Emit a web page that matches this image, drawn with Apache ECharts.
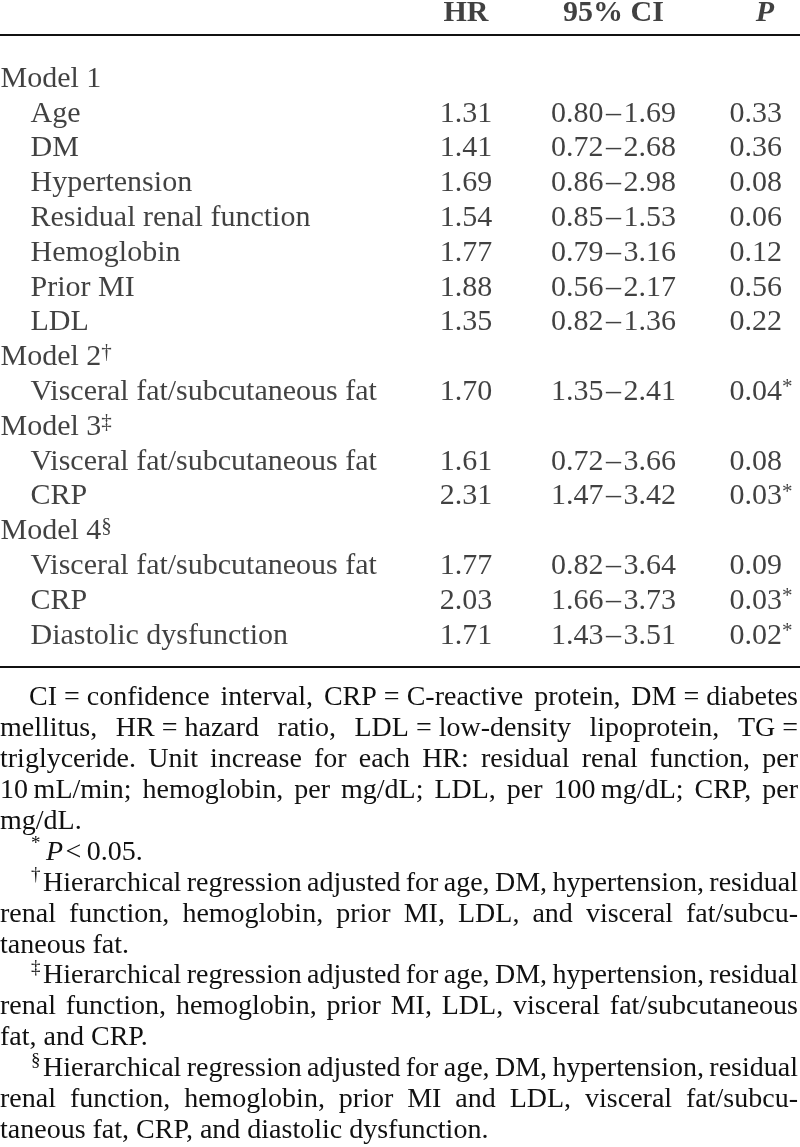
<!DOCTYPE html>
<html><head><meta charset="utf-8">
<script src="https://cdn.jsdelivr.net/npm/echarts@6/dist/echarts.min.js"></script>
<style>html,body{margin:0;padding:0;background:#fff}#c{width:800px;height:1147px}</style>
</head><body><div id="c"></div>
<script>
// ---------------- DATA ----------------
const headers = ['HR', '95% CI', 'P'];
const rowNames = ['Model 1','Age','DM','Hypertension','Residual renal function','Hemoglobin','Prior MI','LDL',
  'Model 2','Visceral fat/subcutaneous fat','Model 3','Visceral fat/subcutaneous fat','CRP',
  'Model 4','Visceral fat/subcutaneous fat','CRP','Diastolic dysfunction'];
const rowLevel = [0,1,1,1,1,1,1,1,0,1,0,1,1,0,1,1,1];
const rowMark  = ['','','','','','','','','†','','‡','','','§','','',''];
const hrValues = [null,1.31,1.41,1.69,1.54,1.77,1.88,1.35,null,1.70,null,1.61,2.31,null,1.77,2.03,1.71];
const ciLower  = [null,0.80,0.72,0.86,0.85,0.79,0.56,0.82,null,1.35,null,0.72,1.47,null,0.82,1.66,1.43];
const ciUpper  = [null,1.69,2.68,2.98,1.53,3.16,2.17,1.36,null,2.41,null,3.66,3.42,null,3.64,3.73,3.51];
const pValues  = [null,0.33,0.36,0.08,0.06,0.12,0.56,0.22,null,0.04,null,0.08,0.03,null,0.09,0.03,0.02];
const pStar    = [0,0,0,0,0,0,0,0,0,1,0,0,1,0,0,1,1];

const footnoteLines = [
  'CI\u00A0=\u00A0confidence interval, CRP\u00A0=\u00A0C-reactive protein, DM\u00A0=\u00A0diabetes',
  'mellitus, HR\u00A0=\u00A0hazard ratio, LDL\u00A0=\u00A0low-density lipoprotein, TG\u00A0=',
  'triglyceride. Unit increase for each HR: residual renal function, per',
  '10\u2009mL/min; hemoglobin, per mg/dL; LDL, per 100\u2009mg/dL; CRP, per',
  'mg/dL.',
  'P\u200A<\u20090.05.',
  'Hierarchical regression adjusted for age, DM, hypertension, residual',
  'renal function, hemoglobin, prior MI, LDL, and visceral fat/subcu-',
  'taneous fat.',
  'Hierarchical regression adjusted for age, DM, hypertension, residual',
  'renal function, hemoglobin, prior MI, LDL, visceral fat/subcutaneous',
  'fat, and CRP.',
  'Hierarchical regression adjusted for age, DM, hypertension, residual',
  'renal function, hemoglobin, prior MI and LDL, visceral fat/subcu-',
  'taneous fat, CRP, and diastolic dysfunction.'
];
const footnoteMarks   = ['','','','','','*','†','','','‡','','','§','',''];
const footnoteJustify = [1,1,1,1,0,0,1,1,0,1,1,0,1,1,0];

// ---------------- LAYOUT ----------------
const FONT = '"Liberation Serif", "Times New Roman", serif';
const INK = '#111';
const FS = 30, FN_FS = 28;
const ROW_H = 34.8;
const GRID_TOP = 35, GRID_BOT = 667, W = 800, H = 1147;
const Y_MIN = -1.264;
const Y_MAX = Y_MIN + (GRID_BOT - GRID_TOP) / ROW_H;
const COL_W = 147.5;
const X_MIN = 2 - 613.5 / COL_W;
const X_MAX = X_MIN + W / COL_W;
const HEADER_Y = Y_MIN - (GRID_TOP - 13) / ROW_H;

const chart = echarts.init(document.getElementById('c'));

const baseText = {fontFamily: FONT, fontSize: FS, color: INK};
const supText = {fontFamily: FONT, fontSize: 21, color: INK, verticalAlign: 'top', lineHeight: 19};

const nameData = rowNames.map((n, i) => ({
  value: [X_MIN, i],
  label: {
    formatter: rowMark[i] ? `{t|${n}}{s|${rowMark[i]}}` : `{t|${n}}`,
    padding: [0, 0, 0, rowLevel[i] * 30]
  }
}));
const hrData = [], ciData = [], pData = [];
rowNames.forEach((n, i) => {
  if (hrValues[i] == null) return;
  hrData.push({value: [1, i], label: {formatter: hrValues[i].toFixed(2)}});
  ciData.push({value: [2, i], label: {formatter: ciLower[i].toFixed(2) + '\u200A\u2013\u200A' + ciUpper[i].toFixed(2)}});
  pData.push({value: [3, i], label: {formatter: `{n|${pValues[i].toFixed(2)}}{${pStar[i] ? 's' : 'h'}|*}`}});
});
const headerData = headers.map((h, j) => ({
  value: [j + 1, HEADER_Y],
  label: {formatter: j === 2 ? `{i|${h}}` : `{b|${h}}`, offset: j === 2 ? [4, 0] : [0, 0]}
}));

function textSeries(data, label) {
  return {
    type: 'scatter', data, symbolSize: 1, clip: false, silent: true,
    itemStyle: {color: 'rgba(0,0,0,0)'},
    label: Object.assign({show: true, position: 'inside', align: 'center', verticalAlign: 'middle',
      fontFamily: FONT, fontSize: FS, color: INK}, label)
  };
}

// footnotes (justified, word by word)
const ctx = document.createElement('canvas').getContext('2d');
ctx.font = `${FN_FS}px ${FONT}`;
const graphics = [];
const R_EDGE = 798;
footnoteLines.forEach((line, k) => {
  const y = 698 + k * 30.9;
  let x0 = 0;
  if (k === 0) x0 = 29;
  if (footnoteMarks[k]) {
    graphics.push({type: 'text', x: 31, y: y - 8, silent: true,
      style: {text: footnoteMarks[k], font: `19px ${FONT}`, fill: INK, verticalAlign: 'middle', textVerticalAlign: 'middle'}});
    x0 = footnoteMarks[k] === '*' ? 46 : 43;
  }
  if (footnoteMarks[k] === '*') {
    graphics.push({type: 'text', x: x0, y, silent: true,
      style: {text: '{i|P}{r|' + line.slice(1) + '}', fill: INK, verticalAlign: 'middle', textVerticalAlign: 'middle',
        rich: {i: {fontFamily: FONT, fontSize: FN_FS, fontStyle: 'italic', fill: INK, color: INK},
               r: {fontFamily: FONT, fontSize: FN_FS, fill: INK, color: INK}}}});
    return;
  }
  if (!footnoteJustify[k]) {
    graphics.push({type: 'text', x: x0, y, silent: true,
      style: {text: line, font: `${FN_FS}px ${FONT}`, fill: INK, verticalAlign: 'middle', textVerticalAlign: 'middle'}});
    return;
  }
  const toks = line.split(' ');
  const ws = toks.map(t => ctx.measureText(t).width);
  const sum = ws.reduce((a, b) => a + b, 0);
  const gap = (R_EDGE - x0 - sum) / (toks.length - 1);
  let x = x0;
  toks.forEach((t, m) => {
    graphics.push({type: 'text', x, y, silent: true,
      style: {text: t, font: `${FN_FS}px ${FONT}`, fill: INK, verticalAlign: 'middle', textVerticalAlign: 'middle'}});
    x += ws[m] + gap;
  });
});

const axisCommon = {
  type: 'value', min: X_MIN, max: X_MAX,
  axisLine: {show: true, onZero: false, lineStyle: {color: INK, width: 2}},
  axisTick: {show: false}, axisLabel: {show: false}, splitLine: {show: false}
};

chart.setOption({
  animation: false,
  backgroundColor: '#fff',
  grid: {left: 0, right: 0, top: GRID_TOP, bottom: H - GRID_BOT, containLabel: false, outerBoundsMode: 'none'},
  xAxis: [Object.assign({position: 'top'}, axisCommon), Object.assign({position: 'bottom'}, axisCommon)],
  yAxis: {type: 'value', inverse: true, min: Y_MIN, max: Y_MAX, show: false},
  series: [
    textSeries(nameData, {position: 'right', distance: 0, align: 'left',
      rich: {t: baseText, s: supText}}),
    textSeries(hrData, {}),
    textSeries(ciData, {}),
    textSeries(pData, {rich: {n: baseText, s: supText, h: Object.assign({}, supText, {color: 'rgba(0,0,0,0)'})}}),
    textSeries(headerData, {rich: {
      b: Object.assign({}, baseText, {fontWeight: 'bold'}),
      i: Object.assign({}, baseText, {fontWeight: 'bold', fontStyle: 'italic'})}})
  ],
  graphic: graphics
});
</script>
</body></html>
